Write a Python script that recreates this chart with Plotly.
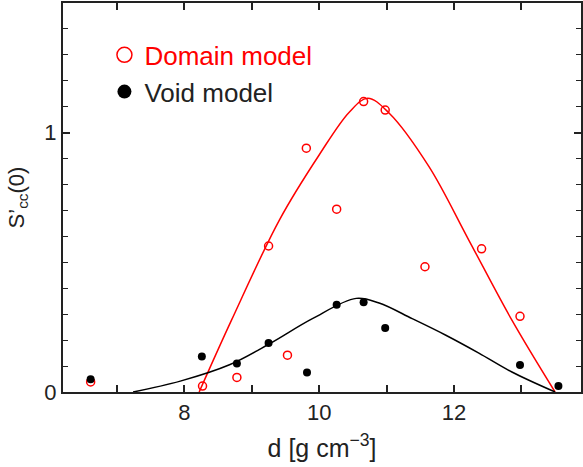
import plotly.graph_objects as go

# Measured points
domain_d = [6.61, 8.27, 8.78, 9.25, 9.53, 9.81, 10.26, 10.66, 10.98, 11.57, 12.41, 12.98]
domain_s = [0.039, 0.023, 0.056, 0.563, 0.142, 0.940, 0.705, 1.120, 1.087, 0.483, 0.552, 0.292]

void_d = [6.61, 8.26, 8.78, 9.25, 9.82, 10.26, 10.66, 10.98, 12.98, 13.55]
void_s = [0.049, 0.137, 0.110, 0.189, 0.075, 0.336, 0.346, 0.247, 0.104, 0.023]

# Model curves
domain_fit_d = [8.22, 8.70, 9.41, 10.0, 10.45, 10.72, 11.04, 11.63, 12.22, 12.86, 13.50]
domain_fit_s = [0.0, 0.277, 0.663, 0.914, 1.080, 1.133, 1.075, 0.869, 0.586, 0.277, 0.0]

void_fit_d = [7.24, 7.94, 8.67, 9.27, 9.90, 10.55, 10.89, 11.38, 11.88, 12.37, 12.86, 13.50]
void_fit_s = [0.0, 0.042, 0.105, 0.187, 0.283, 0.361, 0.343, 0.283, 0.219, 0.150, 0.077, 0.0]

x_ticks = [7, 8, 9, 10, 11, 12, 13]
x_tick_text = ["", "8", "", "10", "", "12", ""]
y_ticks = [0, 1]
y_tick_text = ["0", "1"]

RED = "#ff0000"
BLACK = "#000000"
AXIS = "#222222"
FONT = "Liberation Sans, Arial, sans-serif"

fig = go.Figure()

fig.add_trace(go.Scatter(x=domain_fit_d, y=domain_fit_s, mode="lines",
                         line=dict(color=RED, width=1.5, shape="spline", smoothing=1.0),
                         showlegend=False, hoverinfo="skip"))
fig.add_trace(go.Scatter(x=void_fit_d, y=void_fit_s, mode="lines",
                         line=dict(color=BLACK, width=1.5, shape="spline", smoothing=1.0),
                         showlegend=False, hoverinfo="skip"))
fig.add_trace(go.Scatter(x=domain_d, y=domain_s, mode="markers",
                         marker=dict(symbol="circle-open", size=8, color=RED,
                                     line=dict(width=1.5, color=RED)),
                         showlegend=False))
fig.add_trace(go.Scatter(x=void_d, y=void_s, mode="markers",
                         marker=dict(symbol="circle", size=8, color=BLACK),
                         showlegend=False))

# Legend entries
fig.add_trace(go.Scatter(x=[None], y=[None], mode="markers",
                         name="<span style='color:#ff0000'>Domain model</span>",
                         legendgroup="a",
                         marker=dict(symbol="circle-open", size=15, color=RED,
                                     line=dict(width=1.5, color=RED))))
fig.add_trace(go.Scatter(x=[None], y=[None], mode="markers",
                         name="Void model", legendgroup="b",
                         marker=dict(symbol="circle", size=14, color=BLACK)))

axis_common = dict(
    showline=True, linewidth=2, linecolor=AXIS, mirror="ticks",
    ticks="inside", ticklen=7, tickwidth=1.5, tickcolor=AXIS,
    showgrid=False, zeroline=False,
    tickfont=dict(family=FONT, size=22, color=AXIS),
)

fig.update_layout(
    width=583, height=467,
    margin=dict(l=63, r=0, t=3, b=75),
    paper_bgcolor="white", plot_bgcolor="white",
    font=dict(family=FONT, color=AXIS),
    xaxis=dict(range=[6.2, 13.885], tickvals=x_ticks, ticktext=x_tick_text,
               title=dict(text="d [g cm<sup>−3</sup>]", font=dict(family=FONT, size=25, color=AXIS),
                          standoff=15),
               **axis_common),
    yaxis=dict(range=[0, 1.5], tickvals=y_ticks, ticktext=y_tick_text,
               minor=dict(dtick=0.1, tick0=0, ticks="inside", ticklen=5, tickwidth=1.2,
                          tickcolor=AXIS),
               title=dict(text="S’<sub>cc</sub>(0)", font=dict(family=FONT, size=22, color=AXIS),
                          standoff=14),
               **axis_common),
    legend=dict(x=0.08, y=0.927, xanchor="left", yanchor="top",
                font=dict(family=FONT, size=26, color=AXIS),
                bgcolor="rgba(0,0,0,0)", borderwidth=0,
                traceorder="grouped", tracegroupgap=0, itemsizing="trace"),
)

fig.write_html("out.html")
